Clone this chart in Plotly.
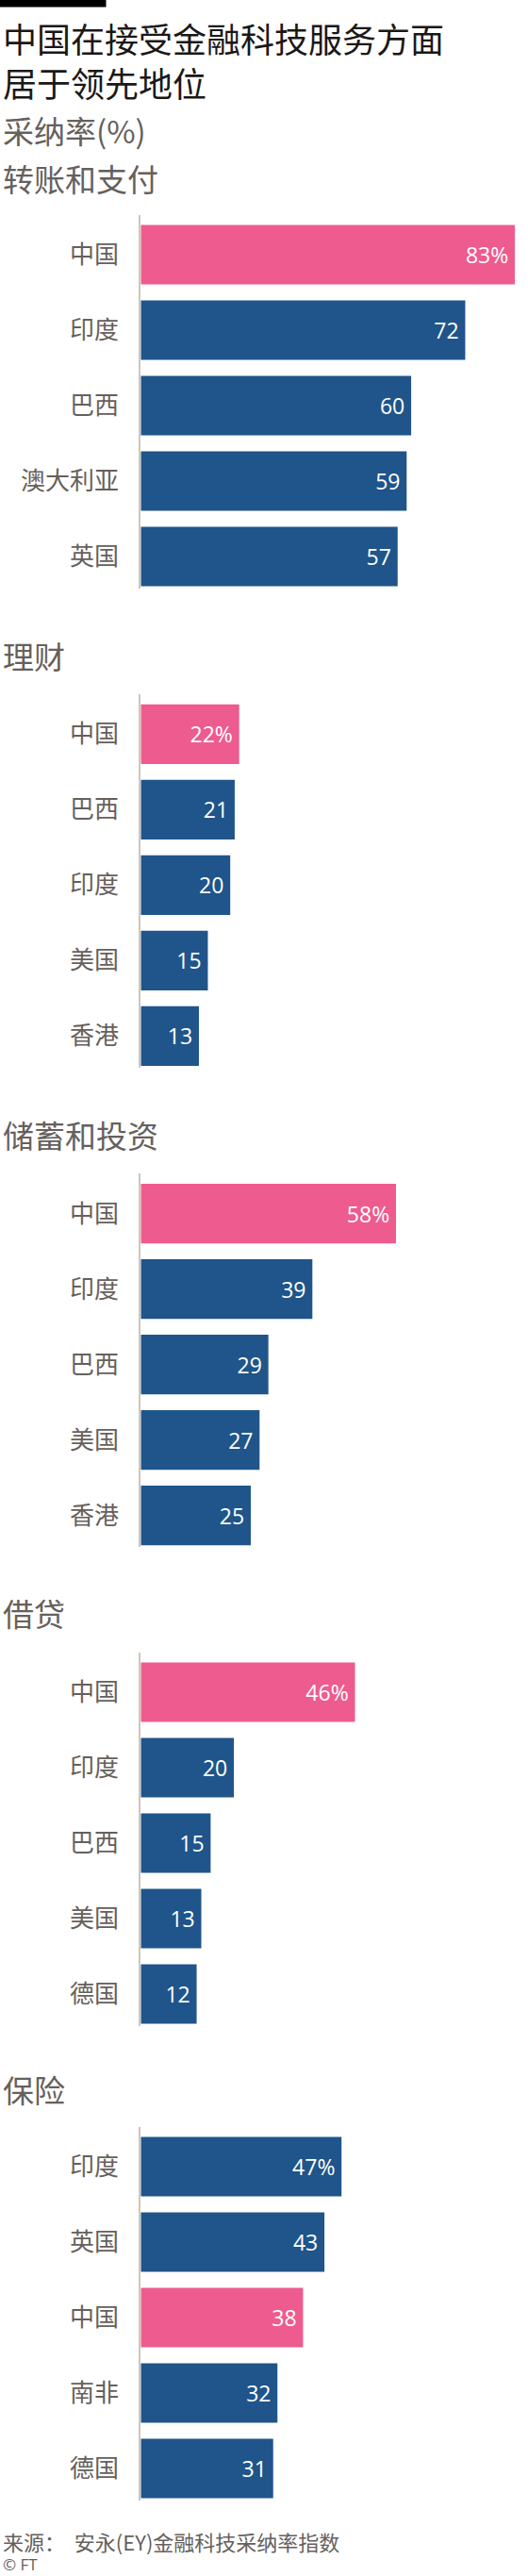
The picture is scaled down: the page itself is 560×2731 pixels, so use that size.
import plotly.graph_objects as go

# ---------------- data ----------------
section_titles = ["转账和支付", "理财", "储蓄和投资", "借贷", "保险"]

payments_countries = ["中国", "印度", "巴西", "澳大利亚", "英国"]
payments_values = [83, 72, 60, 59, 57]

wealth_countries = ["中国", "巴西", "印度", "美国", "香港"]
wealth_values = [22, 21, 20, 15, 13]

savings_countries = ["中国", "印度", "巴西", "美国", "香港"]
savings_values = [58, 39, 29, 27, 25]

borrowing_countries = ["中国", "印度", "巴西", "美国", "德国"]
borrowing_values = [46, 20, 15, 13, 12]

insurance_countries = ["印度", "英国", "中国", "南非", "德国"]
insurance_values = [47, 43, 38, 32, 31]

title_lines = ["中国在接受金融科技服务方面", "居于领先地位"]
subtitle = "采纳率(%)"
source_text = "来源：  安永(EY)金融科技采纳率指数"
credit_text = "© FT"
highlight = "中国"

# ---------------- style / layout ----------------
W, H = 560, 2731
PINK = "#ee5b8e"
BLUE = "#1f558a"
AXIS = "#cfc6bb"
GREY = "#66605c"
BLACK = "#1a1817"
CJK = "Noto Sans CJK SC"
NUM = "Open Sans, Noto Sans CJK SC"


def py(p):
    return 1 - p / H


def px(p):
    return p / W


sections = [
    (payments_countries, payments_values),
    (wealth_countries, wealth_values),
    (savings_countries, savings_values),
    (borrowing_countries, borrowing_values),
    (insurance_countries, insurance_values),
]
first_centers = [270.0, 778.3, 1286.7, 1794.0, 2297.0]
title_centers = [189.0, 694.7, 1203.0, 1710.0, 2214.7]
x_max = [83.08, 83.7, 85.09, 80.4, 87.66]
PITCH = 80.0
X_LEFT, X_RIGHT = 149.3, 546.4

fig = go.Figure()
layout = {}
for i, (cats, vals) in enumerate(sections):
    n = i + 1
    sfx = "" if n == 1 else str(n)
    colors = [PINK if c == highlight else BLUE for c in cats]
    texts = [(f"{v}%" if j == 0 else f"{v}") + "\u2009" for j, v in enumerate(vals)]
    fig.add_trace(go.Bar(
        x=vals, y=cats, orientation="h",
        marker=dict(color=colors, line=dict(width=0)),
        text=texts, textposition="inside", insidetextanchor="end",
        textfont=dict(color="white", size=23, family=NUM),
        constraintext="none",
        xaxis="x" + sfx, yaxis="y" + sfx, hoverinfo="skip",
    ))
    c0 = first_centers[i]
    top = c0 - 42.5
    bot = c0 + 4 * PITCH + 33.7
    layout["xaxis" + sfx] = dict(
        domain=[px(X_LEFT), px(X_RIGHT)], range=[0, x_max[i]],
        visible=False, anchor="y" + sfx, fixedrange=True,
    )
    layout["yaxis" + sfx] = dict(
        domain=[py(bot), py(top)], anchor="x" + sfx,
        type="category", categoryorder="array", categoryarray=cats,
        range=[4 + 33.7 / PITCH, -42.5 / PITCH],
        showline=True, linecolor=AXIS, linewidth=2,
        ticks="", showgrid=False, zeroline=False,
        tickfont=dict(family=CJK, size=26, color=GREY),
        ticklabelstandoff=16, fixedrange=True,
    )

annotations = []
annotations.append(dict(text="<br>".join(title_lines), x=px(1), y=py(63.7), xanchor="left",
                        yanchor="middle", align="left",
                        font=dict(family=CJK, size=36, color=BLACK)))
annotations.append(dict(text=subtitle, x=px(1), y=py(137.8), xanchor="left", yanchor="middle",
                        font=dict(family=CJK, size=33, color=GREY)))
for t, yc in zip(section_titles, title_centers):
    annotations.append(dict(text=t, x=px(1), y=py(yc), xanchor="left", yanchor="middle",
                            font=dict(family=CJK, size=33, color=GREY)))
annotations.append(dict(text=source_text, x=px(1), y=py(2693.6), xanchor="left", yanchor="middle",
                        font=dict(family=CJK, size=22, color=GREY)))
annotations.append(dict(text=credit_text, x=px(1), y=py(2718.5), xanchor="left", yanchor="middle",
                        font=dict(family="Open Sans", size=17, color=GREY)))
for a in annotations:
    a.update(xref="paper", yref="paper", showarrow=False)

fig.update_layout(
    width=W, height=H,
    margin=dict(l=0, r=0, t=0, b=0),
    paper_bgcolor="white", plot_bgcolor="white",
    showlegend=False, bargap=0.21,
    annotations=annotations,
    shapes=[dict(type="rect", xref="paper", yref="paper", x0=0, x1=px(112.5), y0=py(7.6), y1=1,
                 fillcolor="black", line=dict(width=0))],
    **layout,
)

fig.write_html(
    "out.html",
    config={"displayModeBar": False},
    post_script="document.body.style.margin='0';document.body.style.padding='0';"
                "document.documentElement.style.overflow='hidden';",
)
